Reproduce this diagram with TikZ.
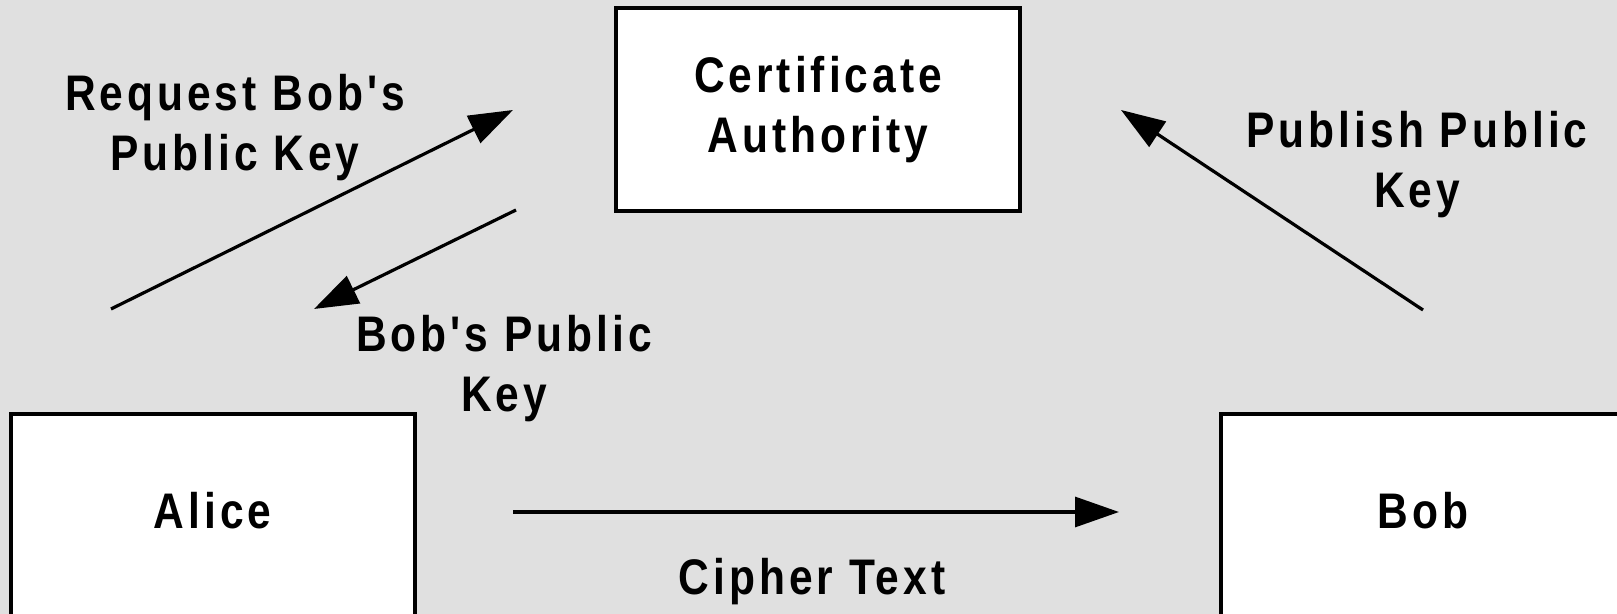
\documentclass[tikz,border=0pt]{standalone}
\usepackage{fontspec}
\newfontfamily\slidefont{Liberation Sans}[FakeStretch=0.85,LetterSpace=8,Ligatures=TeXOff]
\usetikzlibrary{positioning,arrows.meta}
\definecolor{slidegray}{RGB}{224,224,224}

\begin{document}
\begin{tikzpicture}[x=0.5pt, y=-0.5pt,
  every node/.style={font=\slidefont\bfseries\fontsize{25pt}{30pt}\selectfont},
  box/.style={draw, line width=2pt, fill=white, minimum width=202pt, align=center},
  lbl/.style={anchor=north, inner sep=0pt, align=center},
  msg/.style={line width=1.6pt, -{Triangle[length=22pt,width=15pt]}}]
 \path[use as bounding box, fill=slidegray] (0,0) rectangle (1617,614);
 \clip (0,0) rectangle (1617,614);

 % the three parties
 \node[box, minimum height=101.5pt] (ca) at (818,109.5) {Certificate\\Authority};
 \node[box, minimum height=104pt, text depth=8pt, anchor=north] (alice) at (212.5,412) {Alice};
 \node[box, minimum height=104pt, text depth=8pt, anchor=north] (bob) at (1423,412) {Bob};

 % arrow ends
 \coordinate (req-from) at (111,309);
 \coordinate (req-to) at (513,110);
 \coordinate (key-from) at (516,210);
 \coordinate (key-to) at (314,309);
 \coordinate (pub-from) at (1423,310);
 \coordinate (pub-to) at (1121,110);
 \coordinate (ciph-from) at (513,512);
 \coordinate (ciph-to) at (1119,512);

 \draw[msg] (req-from) -- (req-to);
 \draw[msg] (key-from) -- (key-to);
 \draw[msg] (pub-from) -- (pub-to);
 \draw[msg] (ciph-from) -- (ciph-to);

 % messages
 \node[lbl] (req-lbl) at (235,74) {Request Bob's\\Public Key};
 \node[lbl] (key-lbl) at (504,315) {Bob's Public\\Key};
 \node[lbl] (pub-lbl) at (1417,111) {Publish Public\\Key};
 \node[lbl] (ciph-lbl) at (812,558) {Cipher Text};
\end{tikzpicture}
\end{document}
